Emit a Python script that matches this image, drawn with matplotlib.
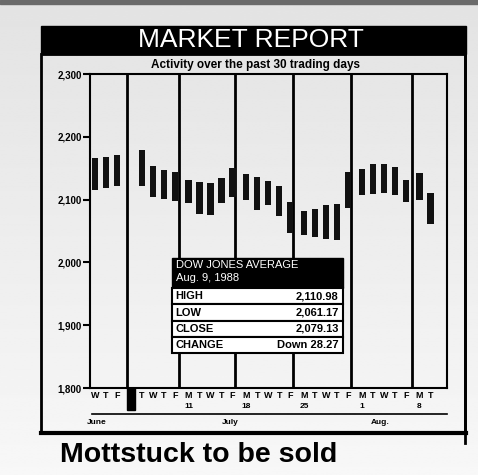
import numpy as np
import matplotlib.pyplot as plt
from matplotlib import font_manager
from matplotlib.patches import Rectangle
from matplotlib.transforms import blended_transform_factory

names = {f.name for f in font_manager.fontManager.ttflist}
narrow = 'Liberation Sans Narrow' if 'Liberation Sans Narrow' in names else 'Liberation Sans'
plt.rcParams['font.family'] = ['Liberation Sans', 'DejaVu Sans']

# Dow Jones daily range, June 29 - Aug 9 1988 (July 4 holiday)
week = [0, 0, 0, 1, 1, 1, 1, 2, 2, 2, 2, 2, 3, 3, 3, 3, 3, 4, 4, 4, 4, 4, 5, 5, 5, 5, 5, 6, 6]
dow = [2, 3, 4, 1, 2, 3, 4, 0, 1, 2, 3, 4, 0, 1, 2, 3, 4, 0, 1, 2, 3, 4, 0, 1, 2, 3, 4, 0, 1]
highs = [2166, 2168, 2171, 2179, 2153, 2147, 2144, 2131, 2128, 2126, 2134, 2150,
         2141, 2136, 2130, 2122, 2096, 2082, 2085, 2091, 2093, 2144,
         2149, 2157, 2157, 2152, 2131, 2142, 2111]
lows = [2115, 2118, 2122, 2122, 2104, 2101, 2098, 2095, 2077, 2075, 2095, 2104,
        2099, 2083, 2091, 2074, 2047, 2044, 2040, 2037, 2036, 2087,
        2107, 2109, 2111, 2107, 2096, 2099, 2061]
holiday_week = 1
monday_dates = ['4', '11', '18', '25', '1', '8']
week_lines = [4.9, 9.65, 14.75, 20.0, 25.3, 30.8]
months = ['June', 'July', 'Aug.']
month_pos = [2.2, 14.3, 27.9]
yticks = [1800, 1900, 2000, 2100, 2200, 2300]
box_rows = [('HIGH', '2,110.98'), ('LOW', '2,061.17'), ('CLOSE', '2,079.13'), ('CHANGE', 'Down 28.27')]

gap = 5.25
pos = np.array(week) * gap + np.array(dow)
highs = np.array(highs)
lows = np.array(lows)

W, H = 478, 475
def fx(x): return x / W
def fy(y): return 1 - y / H

fig = plt.figure(figsize=(4.78, 4.75), dpi=100)

bg = fig.add_axes([0, 0, 1, 1], zorder=-5)
shade = np.linspace(0.89, 0.97, 200).reshape(-1, 1)
bg.imshow(shade, aspect='auto', cmap='gray', vmin=0, vmax=1, extent=[0, 1, 0, 1])
bg.set_xlim(0, 1)
bg.set_ylim(0, 1)
bg.axis('off')
bg.add_patch(Rectangle((0, fy(4)), 1, 4 / H, color='#6a6a6a'))

# title bar + frame
bg.add_patch(Rectangle((fx(41), fy(54)), fx(466) - fx(41), 28 / H, color='black'))
bg.text(fx(251), fy(40), 'MARKET REPORT', color='white', fontsize=19, ha='center', va='center')
bg.add_patch(Rectangle((fx(41), fy(433)), fx(465) - fx(41), (433 - 54) / H, fill=False, lw=2, ec='black'))
bg.plot([fx(41), fx(466)], [fy(433), fy(433)], color='black', lw=3)
bg.plot([fx(465), fx(465)], [fy(54), fy(443)], color='black', lw=2)
bg.text(fx(256), fy(65), 'Activity over the past 30 trading days', fontsize=8.5,
        fontweight='bold', family=narrow, ha='center', va='center')

ax = fig.add_axes([fx(90), fy(388), (447 - 90) / W, (388 - 74) / H])
ax.set_facecolor('none')
ax.set_xlim(1.545, 34.0)
ax.set_ylim(1800, 2300)
for s in ax.spines.values():
    s.set_linewidth(1.5)
ax.set_xticks([])
ax.set_yticks(yticks)
ax.set_yticklabels([f'{v:,}' for v in yticks], fontsize=7, fontweight='bold', family=narrow)
ax.tick_params(axis='y', direction='out', length=5, width=1.5, pad=1)

for x in week_lines:
    ax.axvline(x, color='black', lw=2)

ax.bar(pos, highs - lows, bottom=lows, width=0.55, color='#111111', zorder=3)

trans = blended_transform_factory(ax.transData, ax.transAxes)
for p, d in zip(pos, dow):
    ax.text(p, -0.024, 'MTWTF'[d], transform=trans, ha='center', va='center',
            fontsize=6.5, fontweight='bold', family=narrow)
hp = holiday_week * gap
ax.add_patch(Rectangle((hp - 0.35, -0.07), 0.7, 0.07, transform=trans, color='black', clip_on=False))
for k, lab in enumerate(monday_dates):
    ax.text((k + 1) * gap, -0.058, lab, transform=trans, ha='center', va='center',
            fontsize=6, fontweight='bold', family=narrow)
ax.plot([1.7, 34.0], [-0.082, -0.082], transform=trans, color='black', lw=1.2, clip_on=False)
for p, m in zip(month_pos, months):
    ax.text(p, -0.11, m, transform=trans, ha='center', va='center',
            fontsize=6, fontweight='bold', family=narrow)

# info box
bx0, bx1 = 0.2297, 0.7087
ax.add_patch(Rectangle((bx0, 0.318), bx1 - bx0, 0.096, transform=ax.transAxes, color='black', zorder=5))
ax.text(bx0 + 0.012, 0.392, 'DOW JONES AVERAGE', transform=ax.transAxes, color='white',
        fontsize=8, va='center', zorder=6)
ax.text(bx0 + 0.012, 0.35, 'Aug. 9, 1988', transform=ax.transAxes, color='white',
        fontsize=8, va='center', zorder=6)
rh = 0.052
for i, (lab, val) in enumerate(box_rows):
    top = 0.318 - i * rh
    ax.add_patch(Rectangle((bx0, top - rh), bx1 - bx0, rh, transform=ax.transAxes,
                           facecolor='white', edgecolor='black', lw=1.5, zorder=5))
    ax.text(bx0 + 0.01, top - rh / 2, lab, transform=ax.transAxes, fontsize=8,
            fontweight='bold', va='center', zorder=6)
    ax.text(bx1 - 0.012, top - rh / 2, val, transform=ax.transAxes, fontsize=8,
            fontweight='bold', va='center', ha='right', zorder=6)

fig.text(fx(60), fy(442), 'Mottstuck to be sold', fontsize=20.5, fontweight='bold',
         family=narrow, va='top')

fig.savefig('out.png', dpi=100)
